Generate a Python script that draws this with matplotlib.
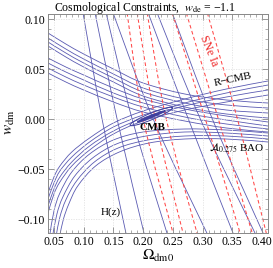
import numpy as np
import matplotlib
matplotlib.use("Agg")
import matplotlib.pyplot as plt
from matplotlib.path import Path
from matplotlib.patches import PathPatch
from matplotlib.ticker import MultipleLocator, FuncFormatter

plt.rcParams['font.family'] = ['Liberation Serif', 'DejaVu Serif']
plt.rcParams['mathtext.fontset'] = 'stix'

# steep lines are given as x at three heights
steep_y = [0.106, 0.0, -0.115]
hz_x = [
    [0.0989, 0.1309, 0.1714],
    [0.1191, 0.1562, 0.2018],
    [0.1377, 0.1815, 0.2406],
    [0.1495, 0.2169, 0.3080],
    [0.2085, 0.2760, 0.3518],
    [0.2236, 0.2962, 0.3889],
    [0.2490, 0.3164, 0.4024],
]
sne_x = [
    [0.1731, 0.2001, 0.2507],
    [0.1900, 0.2203, 0.2675],
    [0.2068, 0.2389, 0.2911],
    [0.2490, 0.3046, 0.3636],
    [0.2726, 0.3265, 0.3839],
    [0.3080, 0.3586, 0.4075],
]

# curves falling from the upper left
fall_x = [0.04, 0.07, 0.10, 0.15, 0.20, 0.27, 0.34, 0.41]
fall_y = [
    [0.086, 0.075, 0.065, 0.050, 0.036, 0.025, 0.019, 0.016],
    [0.081, 0.070, 0.060, 0.045, 0.031, 0.020, 0.014, 0.011],
    [0.077, 0.066, 0.056, 0.041, 0.027, 0.016, 0.009, 0.006],
    [0.073, 0.062, 0.052, 0.037, 0.023, 0.012, 0.005, 0.001],
    [0.061, 0.052, 0.044, 0.031, 0.020, 0.010, 0.003, -0.003],
    [0.056, 0.047, 0.039, 0.026, 0.016, 0.006, -0.001, -0.007],
    [0.051, 0.042, 0.034, 0.022, 0.012, 0.002, -0.005, -0.010],
    [0.046, 0.037, 0.029, 0.017, 0.007, -0.002, -0.009, -0.013],
]

# R-CMB curves rising from the left edge
rcmb_x = [0.04, 0.05, 0.06, 0.08, 0.11, 0.15, 0.20, 0.27, 0.34, 0.41]
rcmb_y = [
    [-0.074, -0.058, -0.047, -0.033, -0.019, -0.004, 0.008, 0.020, 0.030, 0.038],
    [-0.080, -0.064, -0.052, -0.038, -0.023, -0.008, 0.004, 0.016, 0.026, 0.034],
    [-0.087, -0.070, -0.058, -0.043, -0.027, -0.012, 0.001, 0.013, 0.022, 0.029],
    [-0.094, -0.075, -0.063, -0.047, -0.031, -0.015, -0.002, 0.009, 0.017, 0.024],
]

# BAO arcs coming up from the bottom edge
bao_x = [
    [0.043, 0.050, 0.060, 0.080, 0.110, 0.150, 0.200, 0.270, 0.340, 0.410],
    [0.048, 0.055, 0.065, 0.085, 0.115, 0.155, 0.205, 0.270, 0.340, 0.410],
    [0.054, 0.060, 0.070, 0.088, 0.118, 0.158, 0.208, 0.270, 0.340, 0.410],
    [0.060, 0.066, 0.075, 0.090, 0.120, 0.160, 0.210, 0.270, 0.340, 0.410],
]
bao_y = [
    [-0.116, -0.092, -0.074, -0.053, -0.035, -0.021, -0.013, -0.010, -0.011, -0.014],
    [-0.116, -0.095, -0.078, -0.057, -0.039, -0.025, -0.017, -0.013, -0.014, -0.017],
    [-0.116, -0.098, -0.081, -0.062, -0.043, -0.029, -0.021, -0.017, -0.017, -0.020],
    [-0.116, -0.100, -0.085, -0.067, -0.047, -0.033, -0.024, -0.020, -0.020, -0.023],
]

# CMB ellipses: centre, half length in x, slope, half height
cmb_c = (0.2135, 0.0025)
cmb_a = [0.0355, 0.023, 0.019]
cmb_b = [0.0035, 0.0011, 0.0005]
cmb_slope = 0.24

blue = '#5a5ab2'
red = '#ff4848'


def curve(ax, xs, ys, **kw):
    p = np.column_stack([xs, ys])
    verts = [p[0]]
    codes = [Path.MOVETO]
    n = len(p)
    for i in range(n - 1):
        p0 = p[max(i - 1, 0)]
        p1 = p[i]
        p2 = p[i + 1]
        p3 = p[min(i + 2, n - 1)]
        verts += [p1 + (p2 - p0) / 6, p2 - (p3 - p1) / 6, p2]
        codes += [Path.CURVE4] * 3
    ax.add_patch(PathPatch(Path(verts, codes), fill=False, **kw))


fig = plt.figure(figsize=(2.73, 2.68), dpi=100)
ax = fig.add_axes([48 / 273, 35 / 268, 220 / 273, 219 / 268])

for xs in hz_x:
    curve(ax, xs, steep_y, color=blue, lw=0.6)
for ys in fall_y:
    curve(ax, fall_x, ys, color=blue, lw=0.6)
for ys in rcmb_y:
    curve(ax, rcmb_x, ys, color=blue, lw=0.6)
for xs, ys in zip(bao_x, bao_y):
    curve(ax, xs, ys, color=blue, lw=0.6)
for xs in sne_x:
    curve(ax, xs, steep_y, color=red, lw=0.75, linestyle=(0, (3.5, 2.5)))

t = np.linspace(0, 2 * np.pi, 200)
for a, b, w in zip(cmb_a, cmb_b, [0.7, 0.9, 0.9]):
    ex = cmb_c[0] + a * np.cos(t)
    ey = cmb_c[1] + a * cmb_slope * np.cos(t) + b * np.sin(t)
    ax.plot(ex, ey, color='#40409e', lw=w)

ax.set_xlim(0.04, 0.41)
ax.set_ylim(-0.114, 0.105)

ax.xaxis.set_major_locator(MultipleLocator(0.05))
ax.xaxis.set_minor_locator(MultipleLocator(0.01))
ax.yaxis.set_major_locator(MultipleLocator(0.05))
ax.yaxis.set_minor_locator(MultipleLocator(0.01))
fmt = FuncFormatter(lambda v, p: ('%.2f' % v).replace('-', '\u2212') if abs(v) > 1e-9 else '0.00')
ax.xaxis.set_major_formatter(fmt)
ax.yaxis.set_major_formatter(fmt)
ax.tick_params(which='both', direction='in', top=True, right=True, color='#888888',
               labelsize=8.5, pad=2)
ax.tick_params(which='major', length=4, width=0.6)
ax.tick_params(which='minor', length=2, width=0.5)
for s in ax.spines.values():
    s.set_color('#888888')
    s.set_linewidth(0.7)
ax.grid(True, which='major', color='#e2e2e2', linestyle=(0, (1.5, 1.5)), lw=0.6)

ax.text(0.310, 0.068, 'SNe Ia', color='#ee2222', fontsize=8.5, rotation=-68,
        ha='center', va='center')
ax.text(0.351, 0.039, 'R\u2212CMB', fontsize=8, rotation=12, ha='center', va='center')
ax.text(0.215, -0.009, 'CMB', fontsize=8, fontweight='bold', ha='center', va='center')
ax.text(0.358, -0.029, '$\\mathcal{A}_{0.275}$ BAO', fontsize=8, ha='center', va='center')
ax.text(0.146, -0.093, 'H(z)', fontsize=8, ha='center', va='center')

fig.text(145 / 273, 1 - 8 / 268, 'Cosmological Constraints,  $w_{\\mathrm{de}}$ = \u22121.1',
         fontsize=8.5, ha='center', va='center')
fig.text(10 / 273, 1 - 122 / 268, '$w_{\\mathrm{dm}}$', fontsize=11, rotation=90,
         ha='center', va='center')
fig.text(158 / 273, 1 - 256 / 268, '$\\Omega_{\\mathrm{dm0}}$', fontsize=11,
         ha='center', va='center')

fig.savefig('out.png', dpi=100)
